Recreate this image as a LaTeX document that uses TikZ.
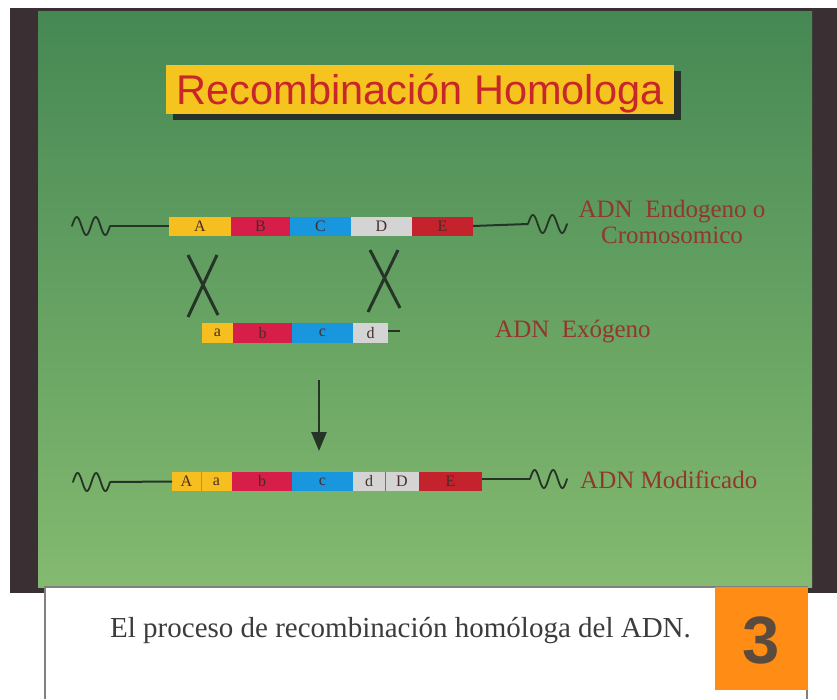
\documentclass[tikz,border=0pt]{standalone}
\usepackage{fontspec}
\setmainfont{Liberation Serif}
\newfontfamily\titlefont{Liberation Sans}
\usetikzlibrary{arrows.meta}
\definecolor{frame}{RGB}{58,48,52}
\definecolor{gtop}{RGB}{70,136,84}
\definecolor{gbot}{RGB}{132,186,112}
\definecolor{ttlyel}{RGB}{246,196,30}
\definecolor{ttlred}{RGB}{200,38,42}
\definecolor{shadowc}{RGB}{40,50,42}
\definecolor{segY}{RGB}{246,190,30}
\definecolor{segM}{RGB}{214,30,72}
\definecolor{segC}{RGB}{24,150,222}
\definecolor{segG}{RGB}{212,212,212}
\definecolor{segR}{RGB}{196,34,44}
\definecolor{lbl}{RGB}{145,55,45}
\definecolor{ink}{RGB}{38,52,40}
\definecolor{orng}{RGB}{255,140,20}
\definecolor{num}{RGB}{90,75,62}
\definecolor{captxt}{RGB}{60,60,60}
\definecolor{segtxt}{RGB}{70,45,40}
\begin{document}
\begin{tikzpicture}[x=1pt,y=-1pt,
  seg/.style={rectangle, inner sep=0pt, outer sep=0pt, minimum height=19pt, anchor=west,
    font=\fontsize{16}{16}\selectfont, text=segtxt},
  dna/.style={ink, line width=2pt},
  wave/.style={ink, line width=1.8pt, line join=round, line cap=round},
  lab/.style={text=lbl, font=\fontsize{25}{26}\selectfont, inner sep=0pt},
  xover/.style={ink, line width=3pt}]
\useasboundingbox (0,0) rectangle (837,699);
\fill[white] (0,0) rectangle (837,699);
\fill[frame] (10,8) rectangle (837,593);
\shade[top color=gtop, bottom color=gbot] (38,11) rectangle (812,587);

% title
\fill[shadowc] (173,71) rectangle (681,120);
\node[fill=ttlyel, minimum width=508pt, minimum height=49pt, inner sep=0pt] (title) at (420,89.5) {};
\node[anchor=base, inner sep=0pt, text=ttlred, font=\titlefont\fontsize{41.5}{42}\selectfont] (titletext) at (420,104) {Recombinación Homologa};

% row 1: endogenous DNA
\node[seg, fill=segY, minimum width=62pt] (A1) at (169,226) {A};
\node[seg, fill=segM, minimum width=59pt] (B1) at (A1.east) {B};
\node[seg, fill=segC, minimum width=61pt] (C1) at (B1.east) {C};
\node[seg, fill=segG, minimum width=61pt] (D1) at (C1.east) {D};
\node[seg, fill=segR, minimum width=61pt] (E1) at (D1.east) {E};
\draw[wave] plot[domain=0:38, samples=70] ({72+\x},{226-9*sin(\x*360/19)});
\coordinate (w1l) at (110,226);
\coordinate (w1r) at (528,224);
\draw[dna] (w1l) -- (A1.west);
\draw[dna] (E1.east) -- (w1r);
\draw[wave] plot[domain=0:39, samples=70] ({528+\x},{224-9*sin(\x*360/19.5)});
\node[lab, anchor=base] (lab1a) at (672,217) {ADN\ \ Endogeno o};
\node[lab, anchor=base] (lab1b) at (672,243) {Cromosomico};

% crossovers
\draw[xover] (188,255) -- (218,315);
\draw[xover] (217,255) -- (188,317);
\draw[xover] (370,250) -- (400,308);
\draw[xover] (398,250) -- (368,312);

% row 2: exogenous DNA
\node[seg, fill=segY, minimum width=31pt, minimum height=20pt] (a2) at (202,333) {a};
\node[seg, fill=segM, minimum width=59pt, minimum height=20pt] (b2) at (a2.east) {b};
\node[seg, fill=segC, minimum width=61pt, minimum height=20pt] (c2) at (b2.east) {c};
\node[seg, fill=segG, minimum width=35pt, minimum height=20pt] (d2) at (c2.east) {d};
\coordinate (t2) at (400,331);
\draw[dna] (d2.east |- t2) -- (t2);
\node[lab, anchor=base west] (lab2) at (495,337) {ADN\ \ Exógeno};

% arrow
\coordinate (arT) at (319,380);
\coordinate (arB) at (319,451);
\draw[ink, line width=2.5pt, -{Triangle[length=19pt,width=15pt]}] (arT) -- (arB);

% row 3: modified DNA
\node[seg, fill=segY, minimum width=29pt] (A3) at (172,481.5) {A};
\node[seg, fill=segY, minimum width=31pt] (a3) at (A3.east) {a};
\node[seg, fill=segM, minimum width=60pt] (b3) at (a3.east) {b};
\node[seg, fill=segC, minimum width=61pt] (c3) at (b3.east) {c};
\node[seg, fill=segG, minimum width=32pt] (d3) at (c3.east) {d};
\node[seg, fill=segG, minimum width=34pt] (D3) at (d3.east) {D};
\node[seg, fill=segR, minimum width=63pt] (E3) at (D3.east) {E};
\draw[orange!70!brown, line width=0.5pt] (A3.north east) -- (A3.south east);
\draw[black!55, line width=1pt] (d3.north east) -- (d3.south east);
\draw[wave] plot[domain=0:37, samples=70] ({73+\x},{482-9*sin(\x*360/18.5)});
\coordinate (w3l) at (110,482);
\coordinate (w3r) at (530,479);
\draw[dna] (w3l) -- (A3.west);
\draw[dna] (E3.east |- w3r) -- (w3r);
\draw[wave] plot[domain=0:37, samples=70] ({530+\x},{479-9*sin(\x*360/18.5)});
\node[lab, anchor=base west] (lab3) at (580,488) {ADN Modificado};

% caption box
\fill[white] (45,587) rectangle (807,699);
\draw[black!50, line width=1.5pt] (45,699) -- (45,587) -- (807,587) -- (807,699);
\node[anchor=base west, inner sep=0pt, text=captxt, font=\fontsize{29}{30}\selectfont] (cap) at (110,637) {El proceso de recombinación homóloga del ADN.};
\node[fill=orng, minimum width=93pt, minimum height=103pt, inner sep=0pt] (badge) at (761.5,638.5) {};
\node[anchor=base, inner sep=0pt, text=num, font=\titlefont\bfseries\fontsize{67}{67}\selectfont] (badgenum) at (761,663) {3};
\end{tikzpicture}
\end{document}
